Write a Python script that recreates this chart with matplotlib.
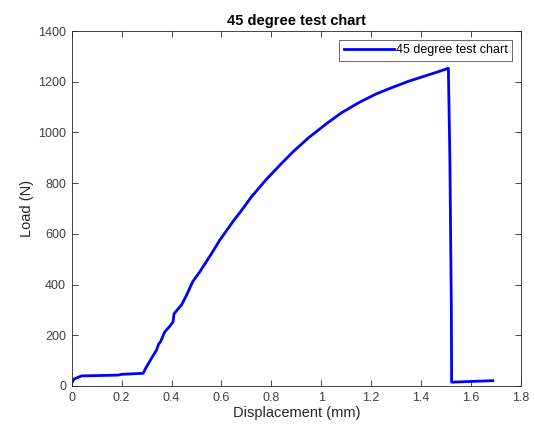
import matplotlib
matplotlib.use("Agg")
import matplotlib.pyplot as plt

plt.rcParams['font.family'] = ['Liberation Sans', 'DejaVu Sans']

displacement = [0.0, 0.01, 0.04, 0.10, 0.186, 0.20, 0.286, 0.297, 0.32, 0.34, 0.348,
                0.356, 0.373, 0.39, 0.406, 0.410, 0.44, 0.46, 0.485, 0.513, 0.56,
                0.593, 0.647, 0.68, 0.72, 0.78, 0.833, 0.886, 0.95, 1.02,
                1.08, 1.153, 1.22, 1.286, 1.35, 1.42, 1.47, 1.509, 1.515, 1.521,
                1.522, 1.60, 1.687]
load = [12, 28, 40, 41, 43, 46, 50, 71, 110, 142, 165,
        175, 214, 232, 253, 285, 320, 358, 412, 450, 522,
        575, 650, 692, 746, 815, 870, 923, 980, 1034,
        1077, 1119, 1152, 1178, 1202, 1224, 1240, 1253, 900, 300,
        15, 18, 21]

title = "45 degree test chart"
xlabel = "Displacement (mm)"
ylabel = "Load (N)"
xticks = [0, 0.2, 0.4, 0.6, 0.8, 1.0, 1.2, 1.4, 1.6, 1.8]
xticklabels = ["0", "0.2", "0.4", "0.6", "0.8", "1", "1.2", "1.4", "1.6", "1.8"]
yticks = [0, 200, 400, 600, 800, 1000, 1200, 1400]

fig = plt.figure(figsize=(5.35, 4.30), dpi=100)
ax = fig.add_axes([71.7/535, 1 - 386/430, (521 - 71.7)/535, (386 - 31)/430])

ax.plot(displacement, load, color='#0000ff', lw=2.0, label=title)
ax.set_xlim(0, 1.8)
ax.set_ylim(0, 1400)
ax.set_xticks(xticks)
ax.set_xticklabels(xticklabels)
ax.set_yticks(yticks)

axcol = '#262626'
for s in ax.spines.values():
    s.set_color(axcol)
    s.set_linewidth(0.6)
ax.tick_params(direction='in', top=True, right=True, length=4, width=0.6,
               colors=axcol, labelsize=9, labelcolor='#404040', pad=4)
ax.set_xlabel(xlabel, fontsize=10.5, color='#262626', labelpad=2)
ax.set_ylabel(ylabel, fontsize=10.5, color='#262626', labelpad=3)
ax.set_title(title, fontsize=10.5, fontweight='bold', color='black', pad=4)

leg = ax.legend(loc='upper right', fontsize=9, frameon=True, fancybox=False,
                handlelength=4.0, handletextpad=0.2, borderpad=0.35,
                borderaxespad=0.7, edgecolor='#262626')
leg.get_frame().set_linewidth(0.6)

fig.savefig("out.png", dpi=100)
